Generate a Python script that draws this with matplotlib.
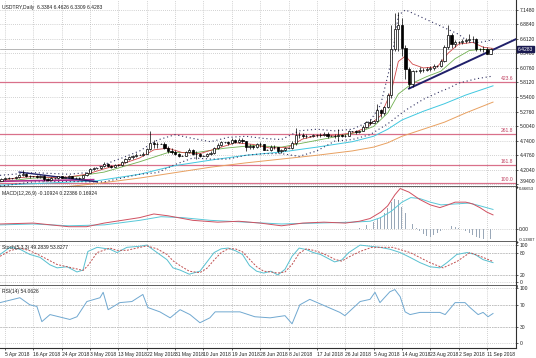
import numpy as np
import matplotlib.pyplot as plt
import matplotlib.transforms as mtransforms

plt.rcParams['font.family'] = ['Liberation Sans Narrow', 'Liberation Sans', 'DejaVu Sans']

# === 1. Dane: świece USDTRY (bary pon-pt + niedziela) ===
opens = [3.99, 4.00, 4.04, 4.05,
         4.05, 4.05, 4.07, 4.10, 4.13, 4.09,
         4.08, 4.08, 4.07, 4.08, 4.03, 4.02,
         4.05, 4.05, 4.08, 4.06, 4.07, 4.08,
         4.06, 4.06, 4.05, 4.10, 4.15, 4.22,
         4.23, 4.23, 4.27, 4.31, 4.27, 4.26,
         4.29, 4.29, 4.35, 4.40, 4.43, 4.46,
         4.48, 4.48, 4.50, 4.58, 4.70, 4.67,
         4.68, 4.68, 4.61, 4.55, 4.53, 4.49,
         4.46, 4.46, 4.53, 4.56, 4.50, 4.49,
         4.46, 4.46, 4.50, 4.52, 4.60, 4.66,
         4.71, 4.71, 4.70, 4.75, 4.72, 4.76,
         4.73, 4.62, 4.64, 4.62, 4.68, 4.67,
         4.57, 4.57, 4.63, 4.62, 4.54, 4.56,
         4.61, 4.61, 4.69, 4.84, 4.85, 4.82,
         4.82, 4.82, 4.85, 4.84, 4.85, 4.87,
         4.83, 4.83, 4.82, 4.85, 4.83, 4.83,
         4.91, 4.91, 4.89, 4.92, 5.00, 5.08,
         5.07, 5.10, 5.30, 5.25, 5.36, 5.58,
         6.42, 6.80, 6.88, 6.45, 6.06, 5.79,
         6.02, 6.02, 6.04, 6.04, 6.06, 6.08,
         6.12, 6.12, 6.20, 6.46, 6.69, 6.53,
         6.55, 6.55, 6.57, 6.60, 6.62, 6.61,
         6.42, 6.42, 6.43, 6.34]
highs = [4.02, 4.06, 4.07, 4.07,
         4.06, 4.09, 4.12, 4.19, 4.14, 4.11,
         4.09, 4.10, 4.10, 4.10, 4.05, 4.07,
         4.06, 4.09, 4.09, 4.09, 4.10, 4.09,
         4.07, 4.07, 4.11, 4.16, 4.24, 4.26,
         4.24, 4.28, 4.34, 4.32, 4.29, 4.31,
         4.30, 4.37, 4.42, 4.46, 4.48, 4.51,
         4.49, 4.53, 4.60, 4.92, 4.75, 4.72,
         4.69, 4.71, 4.64, 4.60, 4.57, 4.52,
         4.47, 4.55, 4.60, 4.58, 4.55, 4.52,
         4.47, 4.52, 4.54, 4.62, 4.69, 4.74,
         4.72, 4.74, 4.78, 4.77, 4.78, 4.78,
         4.74, 4.67, 4.66, 4.70, 4.72, 4.68,
         4.58, 4.66, 4.65, 4.63, 4.59, 4.63,
         4.62, 4.73, 4.97, 4.90, 4.88, 4.86,
         4.83, 4.87, 4.87, 4.88, 4.90, 4.89,
         4.84, 4.86, 4.95, 4.86, 4.87, 4.93,
         4.92, 4.93, 4.94, 5.02, 5.11, 5.14,
         5.12, 5.42, 5.33, 5.38, 5.62, 6.87,
         7.10, 7.12, 7.00, 6.50, 6.10, 6.05,
         6.05, 6.10, 6.08, 6.09, 6.12, 6.15,
         6.14, 6.24, 6.50, 6.88, 6.72, 6.60,
         6.57, 6.62, 6.64, 6.70, 6.66, 6.63,
         6.44, 6.48, 6.47, 6.45]
lows = [3.97, 3.99, 4.02, 4.03,
        4.04, 4.04, 4.06, 4.09, 4.07, 4.06,
        4.07, 4.05, 4.05, 4.00, 4.00, 4.01,
        4.04, 4.04, 4.05, 4.05, 4.06, 4.05,
        4.05, 4.04, 4.05, 4.09, 4.14, 4.20,
        4.22, 4.22, 4.26, 4.25, 4.23, 4.25,
        4.28, 4.28, 4.33, 4.38, 4.41, 4.44,
        4.47, 4.46, 4.49, 4.56, 4.60, 4.60,
        4.67, 4.58, 4.52, 4.49, 4.47, 4.44,
        4.45, 4.45, 4.51, 4.48, 4.40, 4.43,
        4.45, 4.44, 4.48, 4.50, 4.58, 4.64,
        4.70, 4.66, 4.68, 4.69, 4.70, 4.70,
        4.55, 4.58, 4.58, 4.61, 4.63, 4.56,
        4.56, 4.55, 4.58, 4.52, 4.52, 4.54,
        4.60, 4.58, 4.66, 4.79, 4.78, 4.79,
        4.81, 4.80, 4.81, 4.81, 4.83, 4.79,
        4.82, 4.79, 4.73, 4.80, 4.80, 4.82,
        4.90, 4.87, 4.88, 4.91, 4.98, 5.03,
        5.06, 5.08, 5.18, 5.22, 5.34, 5.52,
        6.40, 6.40, 6.30, 5.88, 5.71, 5.72,
        6.00, 5.98, 6.00, 6.02, 6.03, 6.05,
        6.10, 6.10, 6.18, 6.42, 6.45, 6.46,
        6.53, 6.52, 6.54, 6.56, 6.55, 6.40,
        6.40, 6.38, 6.33, 6.33]
closes = [4.00, 4.04, 4.05, 4.05,
          4.05, 4.07, 4.10, 4.13, 4.09, 4.08,
          4.08, 4.07, 4.08, 4.03, 4.02, 4.05,
          4.05, 4.08, 4.06, 4.07, 4.08, 4.06,
          4.06, 4.05, 4.10, 4.15, 4.22, 4.23,
          4.23, 4.27, 4.31, 4.27, 4.26, 4.29,
          4.29, 4.35, 4.40, 4.43, 4.46, 4.48,
          4.48, 4.50, 4.58, 4.70, 4.67, 4.68,
          4.68, 4.61, 4.55, 4.53, 4.49, 4.46,
          4.46, 4.53, 4.56, 4.50, 4.49, 4.46,
          4.46, 4.50, 4.52, 4.60, 4.66, 4.71,
          4.71, 4.70, 4.75, 4.72, 4.76, 4.73,
          4.62, 4.64, 4.62, 4.68, 4.67, 4.57,
          4.57, 4.63, 4.62, 4.54, 4.56, 4.61,
          4.61, 4.69, 4.84, 4.85, 4.82, 4.82,
          4.82, 4.85, 4.84, 4.85, 4.87, 4.83,
          4.83, 4.82, 4.85, 4.83, 4.83, 4.91,
          4.91, 4.89, 4.92, 5.00, 5.08, 5.07,
          5.10, 5.30, 5.25, 5.36, 5.58, 6.42,
          6.80, 6.88, 6.45, 6.06, 5.79, 6.02,
          6.02, 6.04, 6.04, 6.06, 6.08, 6.12,
          6.12, 6.20, 6.46, 6.69, 6.53, 6.55,
          6.55, 6.57, 6.60, 6.62, 6.61, 6.42,
          6.42, 6.43, 6.34, 6.43]

# daty osi X (co 8 barów od 5 Apr)
tick_labels = ["5 Apr 2018", "16 Apr 2018", "24 Apr 2018", "3 May 2018", "13 May 2018",
               "22 May 2018", "31 May 2018", "10 Jun 2018", "19 Jun 2018", "28 Jun 2018",
               "8 Jul 2018", "17 Jul 2018", "26 Jul 2018", "5 Aug 2018", "14 Aug 2018",
               "23 Aug 2018", "2 Sep 2018", "11 Sep 2018"]
first_tick_bar = 2
bars_per_tick = 8

# średnie kroczące (indeks baru, cena)
ma_red_x = [0.6, 5, 10, 15, 20, 25, 30, 35, 40, 44, 48, 52, 57, 62, 67, 72, 77, 82, 86, 90, 95,
            100, 104, 108, 111, 113, 115, 117, 120, 124, 127, 130, 134, 137, 139.7]
ma_red_y = [4.00, 4.05, 4.08, 4.06, 4.07, 4.12, 4.22, 4.31, 4.42, 4.57, 4.60, 4.52, 4.50, 4.60,
            4.70, 4.67, 4.60, 4.62, 4.77, 4.83, 4.84, 4.88, 4.98, 5.20, 5.65, 6.20, 6.30, 6.15,
            6.08, 6.10, 6.35, 6.52, 6.55, 6.46, 6.44]
ma_green_x = [0.6, 10, 20, 30, 40, 48, 56, 64, 72, 80, 88, 96, 102, 106, 110, 113, 117, 121,
              125, 129, 133, 136, 139.7]
ma_green_y = [3.98, 4.05, 4.06, 4.16, 4.35, 4.52, 4.52, 4.60, 4.65, 4.62, 4.72, 4.82, 4.90,
              5.00, 5.25, 5.60, 5.80, 5.92, 6.02, 6.25, 6.40, 6.42, 6.42]
ma_cyan_x = [0.6, 15, 28, 40, 50, 60, 70, 80, 90, 100, 106, 110, 114, 120, 126, 132, 139.7]
ma_cyan_y = [3.92, 3.96, 4.00, 4.12, 4.28, 4.38, 4.47, 4.53, 4.62, 4.72, 4.82, 4.95, 5.12,
             5.28, 5.42, 5.58, 5.75]
ma_orange_x = [0.6, 15, 28, 40, 50, 60, 70, 80, 90, 100, 106, 110, 114, 120, 126, 132, 139.7]
ma_orange_y = [3.80, 3.86, 3.95, 4.05, 4.15, 4.25, 4.33, 4.40, 4.47, 4.55, 4.62, 4.70, 4.82,
               4.95, 5.08, 5.25, 5.45]

# wstęgi (linie kropkowane)
band_up_x = [0.6, 10, 20, 25, 30, 35, 40, 45, 50, 55, 60, 65, 70, 75, 80, 85, 90, 95, 100,
             105, 108, 111, 113, 115, 120, 125, 130, 133, 136, 139.7]
band_up_y = [4.10, 4.15, 4.12, 4.15, 4.30, 4.42, 4.55, 4.75, 4.85, 4.78, 4.72, 4.80, 4.82,
             4.78, 4.76, 4.92, 4.95, 4.92, 4.95, 5.10, 5.40, 6.20, 7.05, 7.15, 7.00, 6.85,
             6.70, 6.55, 6.55, 6.60]
band_dn_x = [0.6, 10, 20, 25, 30, 35, 40, 45, 50, 55, 60, 65, 70, 75, 80, 85, 90, 95, 100,
             105, 110, 115, 120, 125, 127, 130, 135, 139.7]
band_dn_y = [3.90, 3.98, 3.99, 3.98, 3.98, 4.05, 4.12, 4.15, 4.30, 4.42, 4.40, 4.40, 4.47,
             4.50, 4.50, 4.45, 4.55, 4.73, 4.76, 4.85, 5.05, 5.30, 5.50, 5.65, 5.70, 5.80,
             5.88, 5.93]

# poziomy Fibonacciego
fib_names = ["100.0", "161.8", "261.8", "423.6"]
fib_prices = [3.96, 4.29, 4.86, 5.82]

# linie trendu (sierpień oraz kwiecień)
trend_x = [116, 146.5]
trend_y = [5.70, 6.62]
apr_navy_x = [6, 28]
apr_navy_y = [4.16, 3.98]
apr_magenta_x = [0.3, 27]
apr_magenta_y = [3.99, 4.02]

price_ticks = [7.1480, 6.8840, 6.6120, 6.3480, 6.0760, 5.8120, 5.5400, 5.2760,
               5.0040, 4.7400, 4.4760, 4.2040, 3.9400]
last_price = 6.4283
header = "USDTRY,Daily  6.3384 6.4626 6.3309 6.4283"

# MACD
macd_x = [0.6, 10, 20, 25, 30, 35, 40, 44, 48, 55, 62, 68, 74, 80, 86, 92, 98, 102, 105, 108,
          110, 112, 113.5, 116, 119, 122, 124.7, 127, 129, 132, 134, 136, 138, 139.7]
macd_y = [0.06, 0.07, 0.03, 0.03, 0.07, 0.10, 0.13, 0.17, 0.15, 0.10, 0.08, 0.09, 0.07, 0.04,
          0.07, 0.08, 0.07, 0.09, 0.12, 0.19, 0.26, 0.38, 0.45, 0.41, 0.33, 0.27, 0.24, 0.27,
          0.30, 0.30, 0.28, 0.24, 0.19, 0.16]
signal_x = [0.6, 10, 20, 30, 40, 46, 52, 60, 70, 80, 90, 100, 105, 108, 111, 114, 116.5, 119,
            122, 125, 129, 133, 136, 139.7]
signal_y = [0.05, 0.06, 0.04, 0.05, 0.10, 0.14, 0.13, 0.10, 0.08, 0.06, 0.07, 0.08, 0.09, 0.13,
            0.20, 0.30, 0.35, 0.34, 0.30, 0.27, 0.28, 0.29, 0.26, 0.22]
hist_start = 100
hist_vals = [0.01, 0.01, 0.02, 0.03, 0.05, 0.06,
             0.08, 0.12, 0.14, 0.18, 0.24, 0.30,
             0.33, 0.32, 0.25, 0.18, 0.10, 0.06,
             0.02, -0.02, -0.05, -0.07, -0.08, -0.06,
             -0.04, -0.02, 0.00, 0.03, 0.04, 0.03,
             0.02, 0.00, -0.02, -0.04, -0.06, -0.08,
             -0.09, -0.10, -0.11, -0.11]
macd_label = "MACD(12,26,9) -0.10924 0.22386 0.16924"

# Stochastic
stoch_x = [0.6, 3.4, 6.2, 9, 11.9, 14.7, 16.7, 19.5, 22.3, 24, 25.4, 28, 31.6, 33.6, 36.4,
           40.1, 42, 44.9, 47.7, 49.4, 51.4, 54, 57, 59, 61, 63, 65, 67, 69, 71, 73, 75, 77,
           79, 81, 83, 85, 87, 89, 91, 93, 95, 97, 99, 102.2, 105, 107.8, 110.6, 113.5,
           116.3, 119.1, 121.9, 124.7, 126.7, 129.5, 132.4, 134.6, 136.9, 139.7]
stoch_main = [75, 94, 89, 75, 67, 47, 39, 42, 28, 33, 83, 94, 89, 80, 94, 97, 100, 80, 61, 39,
              33, 22, 30, 55, 80, 90, 92, 85, 75, 45, 30, 25, 30, 20, 35, 70, 92, 88, 80, 75,
              65, 55, 60, 80, 100, 97, 94, 89, 80, 67, 53, 42, 39, 53, 75, 80, 75, 61, 53]
sig_x = [0.6, 3.4, 6.2, 9, 11.9, 14.7, 16.7, 19.5, 22.3, 24, 25.4, 28, 31.6, 33.6, 36.4, 40.1,
         42, 44.9, 47.7, 49.4, 51.4, 54, 57, 59, 61, 63, 65, 67, 69, 71, 73, 75, 77, 79, 81,
         83, 85, 87, 89, 91, 93, 95, 97, 99, 102.2, 105.5, 111.4, 116.3, 121.9, 125.6, 129.5,
         133.2, 136.9, 139.7]
stoch_sig = [70, 85, 92, 85, 72, 58, 48, 42, 36, 32, 45, 80, 92, 86, 86, 94, 98, 90, 75, 58,
             45, 30, 26, 38, 60, 80, 90, 90, 82, 62, 42, 30, 28, 25, 28, 48, 78, 90, 86, 80,
             72, 62, 57, 68, 83, 94, 94, 80, 53, 39, 56, 80, 67, 56]
stoch_label = "Stoch(5,3,3) 49.2839 53.8277"

# RSI
rsi_x = [0.6, 6.2, 9, 11, 12.4, 14.7, 20.3, 22.3, 25.1, 28.8, 29.7, 31.1, 34.4, 37.8, 40.9,
         42.3, 45.7, 48.6, 51.4, 54.2, 57, 59.8, 61.3, 68.3, 72.5, 76.8, 81, 83, 85.2, 88,
         96.5, 97.9, 102.2, 105, 106.4, 107.8, 110.6, 112, 113.5, 114.9, 116.3, 119.1, 124.7,
         126.2, 129, 131.8, 133.2, 135.5, 136.9, 138.3, 139.7]
rsi_y = [74, 83, 70, 67, 39, 52, 43, 48, 76, 83, 93, 61, 74, 76, 89, 65, 57, 46, 61, 52, 37,
         46, 57, 57, 48, 46, 50, 35, 70, 80, 56, 50, 76, 80, 93, 74, 94, 98, 85, 57, 52, 56,
         56, 52, 74, 74, 65, 52, 56, 48, 54]
rsi_label = "RSI(14) 54.0626"

# === 2. Układ paneli (piksele) ===
W, H = 536, 358
fig = plt.figure(figsize=(W / 100, H / 100), dpi=100)
fig.patch.set_facecolor("white")
RIGHT = 516
x_left = 2 - 5 / 3.544
x_right = x_left + RIGHT / 3.544
FS = 3.6


def panel(top, bottom):
    ax = fig.add_axes([0, 1 - bottom / H, RIGHT / W, (bottom - top) / H])
    ax.set_xlim(x_left, x_right)
    ax.set_facecolor("white")
    for s in ("left", "top"):
        ax.spines[s].set_visible(False)
    ax.spines["right"].set_color("#303030")
    ax.spines["right"].set_linewidth(0.8)
    ax.spines["bottom"].set_color("#303030")
    ax.spines["bottom"].set_linewidth(1.8)
    ax.yaxis.tick_right()
    ax.tick_params(axis="y", labelsize=FS, length=1.5, width=0.5, pad=1, colors="#202020")
    ax.tick_params(axis="x", length=0, labelbottom=False)
    ticks = [first_tick_bar + bars_per_tick * k for k in range(len(tick_labels))]
    ax.set_xticks(ticks)
    ax.grid(True, color="#a8a8a8", linestyle=(0, (1, 2)), linewidth=0.5)
    ax.set_axisbelow(True)
    return ax


ax_p = panel(0, 187)
ax_m = panel(187, 242)
ax_s = panel(242, 285.5)
ax_r = panel(285.5, 348)

idx = np.arange(len(closes))
o = np.array(opens)
c = np.array(closes)

# === 3. Wykres ceny ===
ax_p.set_ylim(3.885, 7.332)
ax_p.set_yticks(price_ticks)
ax_p.set_yticklabels(["%.4f" % v for v in price_ticks])
ax_p.get_yticklabels()[-1].set_verticalalignment("bottom")

for name, lvl in zip(fib_names, fib_prices):
    ax_p.axhline(lvl, color="#d9708a", lw=0.9, zorder=1)
    ax_p.text(x_right - 0.8, lvl + 0.015, name, color="#c04060", fontsize=FS,
              ha="right", va="bottom")

ax_p.axhline(last_price, color="#9a9a9a", lw=0.5, zorder=1)
ax_p.plot(ma_orange_x, ma_orange_y, color="#e8a060", lw=0.7, zorder=2)
ax_p.plot(ma_cyan_x, ma_cyan_y, color="#40c8e0", lw=0.7, zorder=2)
ax_p.plot(ma_green_x, ma_green_y, color="#70b050", lw=0.6, zorder=2)
ax_p.plot(ma_red_x, ma_red_y, color="#d04848", lw=0.6, zorder=2)
ax_p.plot(band_up_x, band_up_y, color="#303060", lw=0.8, ls=(0, (1, 2.5)), zorder=2)
ax_p.plot(band_dn_x, band_dn_y, color="#303060", lw=0.8, ls=(0, (1, 2.5)), zorder=2)
ax_p.plot(trend_x, trend_y, color="#20206a", lw=1.4, zorder=3)
ax_p.plot(apr_magenta_x, apr_magenta_y, color="#b03090", lw=1.2, zorder=3)
ax_p.plot(apr_navy_x, apr_navy_y, color="#20206a", lw=1.0, zorder=3)

ax_p.vlines(idx, lows, highs, color="black", lw=0.5, zorder=4)
up = c >= o
ax_p.bar(idx[up], (c - o)[up], bottom=o[up], width=0.62, color="white",
         edgecolor="black", linewidth=0.5, zorder=5)
ax_p.bar(idx[~up], (o - c)[~up], bottom=c[~up], width=0.62, color="black",
         edgecolor="black", linewidth=0.5, zorder=5)

ax_p.text(2 / RIGHT, 1 - 7 / 187, header, transform=ax_p.transAxes, fontsize=FS,
          color="#202020", va="center", ha="left")
ax_p.text(1.004, last_price, "%.4f" % last_price,
          transform=mtransforms.blended_transform_factory(ax_p.transAxes, ax_p.transData),
          fontsize=FS, color="white", va="center", ha="left", clip_on=False,
          bbox=dict(boxstyle="square,pad=0.15", fc="#1a1a50", ec="#1a1a50"), zorder=10)

# === 4. MACD ===
ax_m.set_ylim(-0.13807, 0.46653)
ax_m.set_yticks([0.46653, 0.0, -0.13807])
ax_m.set_yticklabels(["0.46653", "0.00", "-0.13807"])
ax_m.get_yticklabels()[0].set_verticalalignment("top")
ax_m.get_yticklabels()[2].set_verticalalignment("bottom")
for k in (0, 2):
    ax_m.get_yticklabels()[k].set_fontsize(3.1)
ax_m.tick_params(axis="y", pad=0.5)
hx = np.arange(hist_start, hist_start + len(hist_vals))
ax_m.bar(hx, hist_vals, width=0.25, color="#9aa8b8", zorder=2)
ax_m.plot(signal_x, signal_y, color="#58c8d8", lw=0.7, zorder=3)
ax_m.plot(macd_x, macd_y, color="#d05060", lw=0.7, zorder=3)
ax_m.text(2 / RIGHT, 1 - 7 / 55, macd_label, transform=ax_m.transAxes, fontsize=FS,
          color="#202020", va="center", ha="left")

# === 5. Stochastic ===
ax_s.set_ylim(-8.3, 108.3)
ax_s.set_yticks([100, 80, 20, 0])
ax_s.set_yticklabels(["100", "80", "20", "0"])
for lvl in (80, 20):
    ax_s.axhline(lvl, color="#b0b0b0", lw=0.5, ls=(0, (2, 2)), zorder=1)
ax_s.plot(stoch_x, stoch_main, color="#58c0d0", lw=0.7, zorder=3)
ax_s.plot(sig_x, stoch_sig, color="#c05050", lw=0.7, ls=(0, (2, 1.5)), zorder=3)
ax_s.text(2 / RIGHT, 1 - 6 / 43.5, stoch_label, transform=ax_s.transAxes, fontsize=FS,
          color="#202020", va="center", ha="left")

# === 6. RSI ===
ax_r.set_ylim(-9.5, 105.5)
ax_r.set_yticks([100, 70, 30, 0])
ax_r.set_yticklabels(["100", "70", "30", "0"])
for lvl in (70, 30):
    ax_r.axhline(lvl, color="#b0b0b0", lw=0.5, ls=(0, (2, 2)), zorder=1)
ax_r.plot(rsi_x, rsi_y, color="#70a8d0", lw=0.7, zorder=3)
ax_r.text(2 / RIGHT, 1 - 6 / 62.5, rsi_label, transform=ax_r.transAxes, fontsize=FS,
          color="#202020", va="center", ha="left")
ax_r.spines["bottom"].set_linewidth(0.8)
ax_r.tick_params(axis="x", labelbottom=True, length=1.5, width=0.5, pad=1.5, labelsize=FS,
                 colors="#202020")
ax_r.set_xticklabels(tick_labels)
for lab in ax_r.get_xticklabels():
    lab.set_horizontalalignment("left")

fig.savefig("out.png", dpi=100)
